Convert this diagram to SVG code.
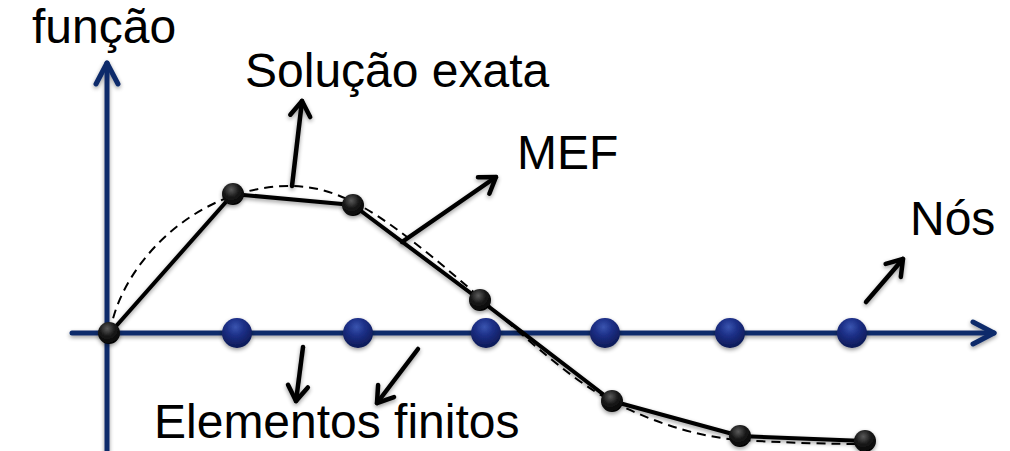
<svg xmlns="http://www.w3.org/2000/svg" width="1010" height="451" viewBox="0 0 1010 451">
  <style>
    .lbl { font-family: "Liberation Sans", Arial, sans-serif; font-size: 48px; fill: #000; }
    .axis { stroke: #0f2b6b; stroke-width: 5; fill: none; stroke-linecap: round; }
    .ptr { stroke: #000; stroke-width: 4.5; fill: none; stroke-linecap: round; }
    .fem { stroke: #000; stroke-width: 4; fill: none; stroke-linejoin: round; }
    .exact { stroke: #000; stroke-width: 2; fill: none; stroke-dasharray: 9 6; }
  </style>
  <defs>
    <radialGradient id="gBlue" cx="0.45" cy="0.3" r="0.72">
      <stop offset="0" stop-color="#3a55b0"/>
      <stop offset="0.4" stop-color="#1d3088"/>
      <stop offset="1" stop-color="#0c1852"/>
    </radialGradient>
    <radialGradient id="gBlack" cx="0.42" cy="0.3" r="0.75">
      <stop offset="0" stop-color="#5a5a5a"/>
      <stop offset="0.45" stop-color="#1a1a1a"/>
      <stop offset="1" stop-color="#000"/>
    </radialGradient>
    <filter id="sh" x="-40%" y="-40%" width="180%" height="180%">
      <feGaussianBlur in="SourceAlpha" stdDeviation="2"/>
      <feOffset dx="0" dy="2" result="b"/>
      <feComponentTransfer><feFuncA type="linear" slope="0.4"/></feComponentTransfer>
      <feMerge><feMergeNode/><feMergeNode in="SourceGraphic"/></feMerge>
    </filter>
    <marker id="axHead" markerUnits="userSpaceOnUse" viewBox="-26 -14 30 28" markerWidth="30" markerHeight="28" refX="0" refY="0" orient="auto">
      <path d="M-21,-11 L0,0 L-21,11" fill="none" stroke="#0f2b6b" stroke-width="5" stroke-linecap="round" stroke-linejoin="round"/>
    </marker>
    <marker id="ptrHead" markerUnits="userSpaceOnUse" viewBox="-20 -14 24 28" markerWidth="24" markerHeight="28" refX="0" refY="0" orient="auto">
      <path d="M-15,-10 L0,0 L-15,10" fill="none" stroke="#000" stroke-width="4.5" stroke-linecap="round" stroke-linejoin="round"/>
    </marker>
  </defs>

  <g id="axes" filter="url(#sh)">
    <line class="axis" x1="107" y1="451" x2="107" y2="63" marker-end="url(#axHead)"/>
    <line class="axis" x1="72" y1="333" x2="994" y2="333" marker-end="url(#axHead)"/>
  </g>

  <g id="exact-solution">
    <path class="exact" d="M110,333 C120,265 195,186 290,186 C340,186 380,215 430,255 C500,312 560,375 615,403 C660,425 700,437 740,440 C790,443 830,444 865,444"/>
  </g>

  <g id="fem-solution">
    <polyline class="fem" points="110,333 233,194 353,205 480,300 612,401 740,436 865,441" filter="url(#sh)"/>
  </g>

  <g id="connectors" filter="url(#sh)">
    <line class="ptr" x1="292" y1="186" x2="302" y2="101" marker-end="url(#ptrHead)"/>
    <line class="ptr" x1="402" y1="242" x2="496" y2="177" marker-end="url(#ptrHead)"/>
    <line class="ptr" x1="866" y1="302" x2="903" y2="259" marker-end="url(#ptrHead)"/>
    <line class="ptr" x1="303" y1="347" x2="296" y2="401" marker-end="url(#ptrHead)"/>
    <line class="ptr" x1="418" y1="349" x2="377" y2="403" marker-end="url(#ptrHead)"/>
  </g>

  <g id="nodes-axis" filter="url(#sh)">
    <circle cx="237" cy="333" r="15" fill="url(#gBlue)"/>
    <circle cx="358" cy="333" r="15" fill="url(#gBlue)"/>
    <circle cx="486" cy="333" r="15" fill="url(#gBlue)"/>
    <circle cx="605" cy="333" r="15" fill="url(#gBlue)"/>
    <circle cx="730" cy="333" r="15" fill="url(#gBlue)"/>
    <circle cx="852" cy="333" r="15" fill="url(#gBlue)"/>
  </g>

  <g id="nodes-fem" filter="url(#sh)">
    <circle cx="109" cy="333" r="11" fill="url(#gBlack)"/>
    <circle cx="233" cy="194" r="11" fill="url(#gBlack)"/>
    <circle cx="353" cy="205" r="11" fill="url(#gBlack)"/>
    <circle cx="480" cy="300" r="11" fill="url(#gBlack)"/>
    <circle cx="612" cy="401" r="11" fill="url(#gBlack)"/>
    <circle cx="740" cy="436" r="11" fill="url(#gBlack)"/>
    <circle cx="865" cy="441" r="11" fill="url(#gBlack)"/>
  </g>

  <g id="label-funcao"><text class="lbl" x="32" y="43">função</text></g>
  <g id="label-solucao"><text class="lbl" x="245" y="87">Solução exata</text></g>
  <g id="label-mef"><text class="lbl" x="517" y="169">MEF</text></g>
  <g id="label-nos"><text class="lbl" x="910" y="235">Nós</text></g>
  <g id="label-elementos"><text class="lbl" x="154" y="438">Elementos finitos</text></g>
</svg>
